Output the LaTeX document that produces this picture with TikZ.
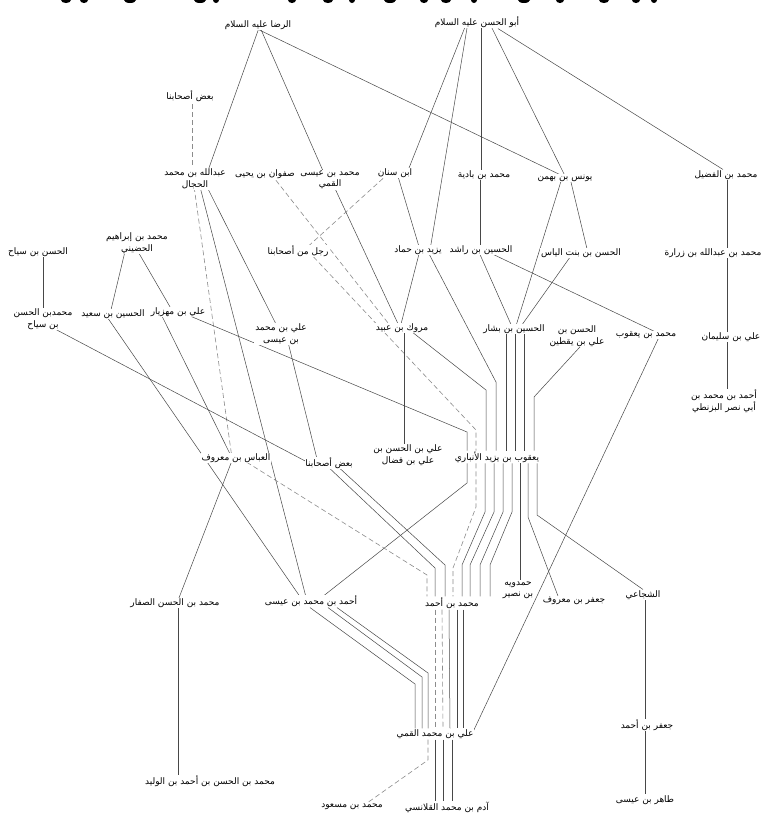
\documentclass[tikz,border=0pt]{standalone}
\usepackage{fontspec}
\newfontfamily\arabicfont[Script=Arabic]{DejaVu Sans}
\TeXXeTstate=1
\usetikzlibrary{calc,backgrounds}
\newcommand{\artx}[1]{\beginR#1\endR}
\tikzset{
 nm/.style={fill=white, inner sep=0.8pt, align=center, font=\arabicfont\fontsize{9}{11.5}\selectfont, text=black},
 ln/.style={draw=black!72, line width=0.5pt},
 dl/.style={draw=black!45, line width=0.6pt, dash pattern=on 5pt off 3pt},
}
\begin{document}
\begin{tikzpicture}[x=1pt,y=-1pt]
\useasboundingbox (0,0) rectangle (764,817);
% clipped heading fragments
\foreach \xx/\ww in {66/5,84/4,130/6,200/6,216/3,292/4,328/5,352/3,390/6,424/4,446/5,474/3,524/6,560/4,604/5,636/4,654/3}
  \fill[black] (\xx,0) ellipse ({\ww pt} and 3pt);

\node[nm] (abulhasan) at (477,22) {\artx{أبو الحسن عليه السلام}};
\node[nm] (rida) at (258,25) {\artx{الرضا عليه السلام}};
\node[nm] (baad1) at (190,96) {\artx{بعض أصحابنا}};
\node[nm] (hajjal) at (195,179) {\artx{عبدالله بن محمد}\\\artx{الحجال}};
\node[nm] (safwan) at (265,174) {\artx{صفوان بن يحيى}};
\node[nm] (mqummi) at (330,180) {\artx{محمد بن عيسى}\\\artx{القمي}};
\node[nm] (ibnsinan) at (395,173) {\artx{ابن سنان}};
\node[nm] (badiya) at (484,175) {\artx{محمد بن بادية}};
\node[nm] (yunus) at (565,178) {\artx{يونس بن بهمن}};
\node[nm] (fudayl) at (726,175) {\artx{محمد بن الفضيل}};
\node[nm] (hudayni) at (137,243) {\artx{محمد بن إبراهيم}\\\artx{الحضيني}};
\node[nm] (hasansayyah) at (38,252) {\artx{الحسن بن سياح}};
\node[nm] (rajul) at (298,251) {\artx{رجل من أصحابنا}};
\node[nm] (yazid) at (418,250) {\artx{يزيد بن حماد}};
\node[nm] (rashid) at (481,250) {\artx{الحسين بن راشد}};
\node[nm] (bintilyas) at (581,253) {\artx{الحسن بن بنت الياس}};
\node[nm] (zurara) at (713,253) {\artx{محمد بن عبدالله بن زرارة}};
\node[nm] (mhsayyah) at (43,319) {\artx{محمدبن الحسن}\\\artx{بن سياح}};
\node[nm] (husaynsaid) at (113,314) {\artx{الحسين بن سعيد}};
\node[nm] (mahziyar) at (178,312) {\artx{علي بن مهزيار}};
\node[nm] (alimisa) at (281,334) {\artx{علي بن محمد}\\\artx{بن عيسى}};
\node[nm] (marwak) at (402,328) {\artx{مروك بن عبيد}};
\node[nm] (bashshar) at (514,329) {\artx{الحسين بن بشار}};
\node[nm] (yaqtin) at (577,336) {\artx{الحسن بن}\\\artx{علي بن يقطين}};
\node[nm] (myaqub) at (646,335) {\artx{محمد بن يعقوب}};
\node[nm] (sulayman) at (731,337) {\artx{علي بن سليمان}};
\node[nm] (bazanti) at (724,401) {\artx{أحمد بن محمد بن}\\\artx{أبي نصر البزنطي}};
\node[nm] (abbas) at (236,458) {\artx{العباس بن معروف}};
\node[nm] (baad2) at (329,463) {\artx{بعض أصحابنا}};
\node[nm] (faddal) at (408,455) {\artx{علي بن الحسن بن}\\\artx{علي بن فضال}};
\node[nm] (yaqub) at (497,457) {\artx{يعقوب بن يزيد الأنباري}};
\node[nm] (ahmadisa) at (311,601) {\artx{أحمد بن محمد بن عيسى}};
\node[nm] (saffar) at (175,603) {\artx{محمد بن الحسن الصفار}};
\node[nm] (mahmad) at (452,603) {\artx{محمد بن أحمد}};
\node[nm] (hamdawayh) at (518,590) {\artx{حمدويه}\\\artx{بن نصير}};
\node[nm] (jafarmaruf) at (574,601) {\artx{جعفر بن معروف}};
\node[nm] (shujai) at (643,595) {\artx{الشجاعي}};
\node[nm] (walid) at (210,781) {\artx{محمد بن الحسن بن أحمد بن الوليد}};
\node[nm] (aliqummi) at (435,734) {\artx{علي بن محمد القمي}};
\node[nm] (jafarahmad) at (647,725) {\artx{جعفر بن أحمد}};
\node[nm] (tahir) at (645,800) {\artx{طاهر بن عيسى}};
\node[nm] (masud) at (352,807) {\artx{محمد بن مسعود}};
\node[nm] (adam) at (447,807) {\artx{آدم بن محمد القلانسي}};

\begin{pgfonlayer}{background}
\fill[white] (0,0) rectangle (764,817);
\draw[ln] ($(rida)+(2,0)$) -- ($(hajjal)+(10,0)$);
\draw[ln] ($(rida)+(1,0)$) -- ($(mqummi)+(-3,0)$);
\draw[ln] ($(rida)+(-9,0)$) -- ($(yunus)+(2,0)$);
\draw[ln] ($(abulhasan)+(-10,0)$) -- ($(ibnsinan)+(12,0)$);
\draw[ln] ($(abulhasan)+(-9,0)$) -- ($(yazid)+(12,0)$);
\draw[ln] ($(abulhasan)+(4,0)$) -- ($(badiya)+(-3,0)$);
\draw[ln] ($(abulhasan)+(12,0)$) -- ($(yunus)+(1,0)$);
\draw[ln] ($(abulhasan.south)+(21,0)$) -- ($(fudayl.north)+(-3,0)$);
\draw[dl] ($(baad1)+(2,0)$) -- ($(hajjal)+(-3,0)$);
\draw[dl] ($(hajjal)+(-2,0)$) -- ($(abbas)+(-4,0)$);
\draw[ln] ($(hajjal)+(3,0)$) -- ($(ahmadisa)+(-4,0)$);
\draw[ln] ($(hajjal)+(8,0)$) -- (alimisa);
\draw[ln] ($(alimisa)+(5,0)$) -- ($(baad2)+(-11,0)$);
\draw[ln] ($(mhsayyah)+(12,10)$) -- ($(baad2)+(-20,0)$);
\draw[ln] ($(hasansayyah)+(5,0)$) -- (mhsayyah);
\draw[ln] ($(hudayni)+(-10,0)$) -- ($(husaynsaid)+(-3,0)$);
\draw[ln] ($(hudayni)+(-4,0)$) -- ($(mahziyar)+(-5,0)$);
\draw[ln] ($(husaynsaid)+(-8,0)$) -- ($(ahmadisa)+(-8,0)$);
\draw[ln] ($(mahziyar)+(-18,0)$) -- ($(abbas)+(-4,0)$);
\draw[ln] ($(mahziyar)+(12,4)$) -- (467,432) -- ($(yaqub.north)+(-30,0)$);
\draw[ln] ($(yaqub.south)+(-30,0)$) -- (467,483) -- ($(ahmadisa)+(6,0)$);
\draw[dl] ($(safwan)+(6,0)$) -- ($(marwak)+(-10,0)$);
\draw[dl] ($(ibnsinan)+(-6,0)$) -- ($(rajul)+(5,0)$);
\draw[dl] ($(rajul)+(10,0)$) -- (476,430) -- ($(yaqub.north)+(-21,0)$);
\draw[ln] ($(mqummi)+(1,0)$) -- ($(marwak)+(-2,0)$);
\draw[ln] ($(ibnsinan)+(2,0)$) -- ($(yazid)+(2,0)$);
\draw[ln] ($(yazid)+(2,0)$) -- ($(marwak)+(-2,0)$);
\draw[ln] ($(yazid)+(9,0)$) -- (496,382) -- ($(yaqub.north)+(-1,0)$);
\draw[ln] ($(marwak)+(2,0)$) -- ($(faddal)+(-4,0)$);
\draw[ln] ($(marwak)+(5,0)$) -- (486,390) -- ($(yaqub.north)+(-11,0)$);
\draw[ln] ($(rashid)+(-3,0)$) -- ($(bashshar)+(-1,0)$);
\draw[ln] ($(rashid)+(3,0)$) -- ($(myaqub)+(16,0)$);
\draw[ln] ($(badiya)+(-4,0)$) -- ($(rashid)+(-1,0)$);
\draw[ln] ($(yunus)+(5,0)$) -- ($(bintilyas)+(7,0)$);
\draw[ln] ($(yunus)+(-3,0)$) -- ($(bashshar)+(1,0)$);
\draw[ln] ($(bintilyas)+(-8,0)$) -- ($(bashshar)+(5,0)$);
\draw[ln] ($(fudayl)+(1,0)$) -- ($(zurara)+(14,0)$);
\draw[ln] ($(zurara)+(14,0)$) -- ($(sulayman)+(-4,0)$);
\draw[ln] ($(sulayman)+(-4,0)$) -- ($(bazanti)+(3,0)$);
\draw[ln] ($(bashshar)+(-8,0)$) -- ($(yaqub.north)+(9,0)$);
\draw[ln] ($(bashshar)+(1,0)$) -- ($(yaqub.north)+(18,0)$);
\draw[ln] ($(bashshar)+(10,0)$) -- ($(yaqub.north)+(27,0)$);
\draw[ln] ($(yaqtin)+(13,0)$) -- (534,397) -- ($(yaqub.north)+(37,0)$);
\draw[ln] ($(myaqub)+(14,0)$) -- ($(aliqummi)+(37,0)$);
\draw[ln] ($(abbas)+(-3,0)$) -- ($(saffar)+(2,0)$);
\draw[dl] ($(abbas)+(4,0)$) -- (427,575) -- ($(mahmad.north)+(-25,0)$);
\draw[ln] ($(baad2)+(-5,0)$) -- (435,568) -- ($(mahmad.north)+(-17,0)$);
\draw[ln] ($(baad2)+(5,0)$) -- (445,565) -- ($(mahmad.north)+(-7,0)$);
\draw[dl] ($(yaqub.south)+(-21,0)$) -- (476,507) -- (453,568) -- ($(mahmad.north)+(1,0)$);
\draw[ln] ($(yaqub.south)+(-12,0)$) -- (485,512) -- (462,565) -- ($(mahmad.north)+(10,0)$);
\draw[ln] ($(yaqub.south)+(-3,0)$) -- (494,512) -- (470,565) -- ($(mahmad.north)+(18,0)$);
\draw[ln] ($(yaqub.south)+(6,0)$) -- (503,512) -- (480,565) -- ($(mahmad.north)+(28,0)$);
\draw[ln] ($(yaqub.south)+(15,0)$) -- (512,512) -- (490,565) -- ($(mahmad.north)+(38,0)$);
\draw[ln] ($(yaqub.south)+(23,0)$) -- ($(hamdawayh.north)+(2,0)$);
\draw[ln] ($(yaqub.south)+(31,0)$) -- (528,517) -- ($(jafarmaruf.north)+(-16,0)$);
\draw[ln] ($(yaqub.south)+(40,0)$) -- (537,515) -- (shujai.north);
\draw[ln] ($(shujai)+(2,0)$) -- ($(jafarahmad)+(-2,0)$);
\draw[ln] ($(jafarahmad)+(-2,0)$) -- (tahir);
\draw[ln] ($(saffar)+(3,0)$) -- ($(walid)+(-32,0)$);
\draw[ln] ($(ahmadisa.south)+(-1,0)$) -- (415,684) -- ($(aliqummi.north)+(-20,0)$);
\draw[ln] ($(ahmadisa.south)+(17,0)$) -- (422,677) -- ($(aliqummi.north)+(-13,0)$);
\draw[ln] ($(ahmadisa.south)+(26,0)$) -- (428,673) -- ($(aliqummi.north)+(-7,0)$);
\draw[dl] ($(mahmad.south)+(-17,0)$) -- (aliqummi.north);
\draw[dl] ($(mahmad.south)+(-10,0)$) -- ($(aliqummi.north)+(8,0)$);
\draw[ln] ($(mahmad.south)+(-3,0)$) -- ($(aliqummi.north)+(15,0)$);
\draw[ln] ($(mahmad.south)+(5,0)$) -- ($(aliqummi.north)+(22,0)$);
\draw[ln] ($(mahmad.south)+(11,0)$) -- ($(aliqummi.north)+(28,0)$);
\draw[dl] ($(aliqummi.south)+(-7,0)$) -- (428,760) -- ($(masud.north)+(15,0)$);
\draw[ln] (aliqummi.south) -- ($(adam.north)+(-12,0)$);
\draw[ln] ($(aliqummi.south)+(8,0)$) -- ($(adam.north)+(-4,0)$);
\draw[ln] ($(aliqummi.south)+(17,0)$) -- ($(adam.north)+(5,0)$);
\end{pgfonlayer}
\end{tikzpicture}
\end{document}
